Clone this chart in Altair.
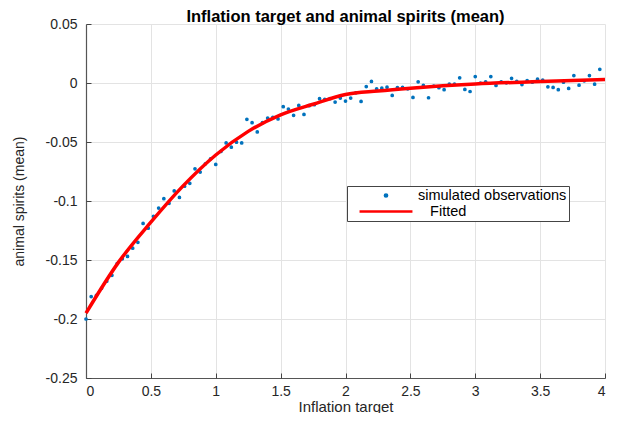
import altair as alt
import pandas as pd

FONT = "Liberation Sans"

# ---- simulated observations ----
obs_x = [0.00, 0.04, 0.08, 0.12, 0.16, 0.20, 0.24, 0.28, 0.32, 0.36,
         0.40, 0.44, 0.48, 0.52, 0.56, 0.60, 0.64, 0.68, 0.72, 0.76,
         0.80, 0.84, 0.88, 0.92, 0.96, 1.00, 1.04, 1.08, 1.12, 1.16,
         1.20, 1.24, 1.28, 1.32, 1.36, 1.40, 1.44, 1.48, 1.52, 1.56,
         1.60, 1.64, 1.68, 1.72, 1.76, 1.80, 1.84, 1.88, 1.92, 1.96,
         2.00, 2.04, 2.08, 2.12, 2.16, 2.20, 2.24, 2.28, 2.32, 2.36,
         2.40, 2.44, 2.48, 2.52, 2.56, 2.60, 2.64, 2.68, 2.72, 2.76,
         2.80, 2.84, 2.88, 2.92, 2.96, 3.00, 3.04, 3.08, 3.12, 3.16,
         3.20, 3.24, 3.28, 3.32, 3.36, 3.40, 3.44, 3.48, 3.52, 3.56,
         3.60, 3.64, 3.68, 3.72, 3.76, 3.80, 3.84, 3.88, 3.92, 3.96]
obs_y = [-0.200, -0.181, -0.180, -0.174, -0.168, -0.163, -0.153, -0.149, -0.147, -0.140,
         -0.135, -0.119, -0.123, -0.113, -0.106, -0.098, -0.102, -0.0915, -0.097, -0.0875,
         -0.085, -0.0727, -0.0755, -0.0685, -0.0643, -0.069, -0.058, -0.0508, -0.0544, -0.0502,
         -0.0508, -0.0308, -0.0336, -0.0415, -0.0336, -0.0297, -0.0291, -0.0305, -0.0201, -0.0221,
         -0.0274, -0.019, -0.0266, -0.0192, -0.0184, -0.0133, -0.0139, -0.0133, -0.0162, -0.0128,
         -0.0153, -0.0128, -0.0083, -0.0156, -0.003, 0.0013, -0.0049, -0.0044, -0.0035, -0.0105,
         -0.004, -0.0038, -0.0049, -0.0122, 0.001, -0.0021, -0.0125, -0.0027, -0.004, -0.0057,
         -0.001, -0.001, 0.0044, -0.0055, -0.0072, 0.0055, -0.0002, 0.001, 0.0055, -0.0021,
         0.001, 0.0002, 0.004, 0.0013, -0.0013, 0.0021, 0.0007, 0.0032, 0.0024, -0.0032,
         -0.0038, -0.0057, 0.0007, -0.0046, 0.0063, -0.0019, 0.0019, 0.0063, -0.001, 0.0116]

# ---- fitted curve ----
fit_x = [0.0, 0.25, 0.5, 0.75, 1.0, 1.25, 1.5, 1.75, 2.0, 2.25, 2.5, 2.75, 3.0, 3.5, 4.0]
fit_y = [-0.195, -0.152, -0.118, -0.087, -0.061, -0.041, -0.027, -0.018, -0.0098,
         -0.0068, -0.0044, -0.0024, -0.0008, 0.0012, 0.003]

series_names = ["simulated observations", "\u200b\u00a0\u00a0\u00a0Fitted"]
series_colors = ["#0072BD", "#FF0000"]
x_ticks = [0, 0.5, 1, 1.5, 2, 2.5, 3, 3.5, 4]
y_ticks = [-0.25, -0.2, -0.15, -0.1, -0.05, 0, 0.05]

obs_df = pd.DataFrame({"x": obs_x, "y": obs_y, "series": series_names[0]})
fit_df = pd.DataFrame({"x": fit_x, "y": fit_y})

label_expr = "replace(format(datum.value, '~g'), '\u2212', '-')"

x_axis = alt.Axis(values=x_ticks, labelExpr=label_expr, title="Inflation target",
                  labelPadding=6, titlePadding=1, tickSize=0, titleFontSize=15)
y_axis = alt.Axis(values=y_ticks, labelExpr=label_expr, title="animal spirits (mean)",
                  labelPadding=9, titlePadding=19, tickSize=0, titleFontSize=14)

# inward tick marks (MATLAB style): a second, label-less axis shifted into the plot
x_ticks_in = alt.Axis(values=x_ticks, orient="bottom", offset=-5, tickSize=5, domain=False,
                      labels=False, grid=False, title=None, tickColor="#444444")
y_ticks_in = alt.Axis(values=y_ticks, orient="left", offset=-5, tickSize=5, domain=False,
                      labels=False, grid=False, title=None, tickColor="#444444")

x_scale = alt.Scale(domain=[0, 4], nice=False, zero=False)
y_scale = alt.Scale(domain=[-0.25, 0.05], nice=False, zero=False)

legend = alt.Legend(title=None, orient="none", legendX=261, legendY=162,
                    direction="vertical", strokeColor="#444444", fillColor="white",
                    padding=2, clipHeight=15, rowPadding=0,
                    symbolOffset=9, labelOffset=4,
                    labelFont=FONT, labelFontSize=14.5, labelColor="#000000",
                    symbolStrokeWidth=2.5, labelLimit=400)

points = alt.Chart(obs_df).mark_point(filled=False, fill="#0072BD", strokeWidth=1.5, opacity=1).encode(
    x=alt.X("x:Q", scale=x_scale, axis=x_axis),
    y=alt.Y("y:Q", scale=y_scale, axis=y_axis),
    color=alt.Color("series:N", scale=alt.Scale(domain=series_names, range=series_colors),
                    legend=legend),
    shape=alt.Shape("series:N", scale=alt.Scale(domain=series_names, range=["circle", "stroke"])),
    size=alt.Size("series:N", scale=alt.Scale(domain=series_names, range=[5, 2800])),
)

line = alt.Chart(fit_df).mark_line(color="#FF0000", strokeWidth=3.5, interpolate="monotone").encode(
    x=alt.X("x:Q", scale=x_scale, axis=x_ticks_in),
    y=alt.Y("y:Q", scale=y_scale, axis=y_ticks_in),
)

chart = alt.layer(points, line).resolve_axis(x="independent", y="independent").properties(
    width=519, height=354,
    autosize=alt.AutoSizeParams(type="none"),
    padding={"left": 78, "top": 16, "right": 4, "bottom": 35},
    background="white",
    title=alt.TitleParams("Inflation target and animal spirits (mean)", font=FONT,
                          fontSize=16.5, fontWeight="bold", color="#000000",
                          offset=-8, anchor="middle"),
).configure_view(strokeWidth=0).configure_axis(
    labelFont=FONT, labelFontSize=14, labelColor="#262626",
    titleFont=FONT, titleFontWeight="normal", titleColor="#262626",
    gridColor="#e3e3e3", gridWidth=1, domainColor="#555555", domainWidth=1.2,
)

chart.save("out.html", embed_options={"renderer": "svg", "actions": False})
